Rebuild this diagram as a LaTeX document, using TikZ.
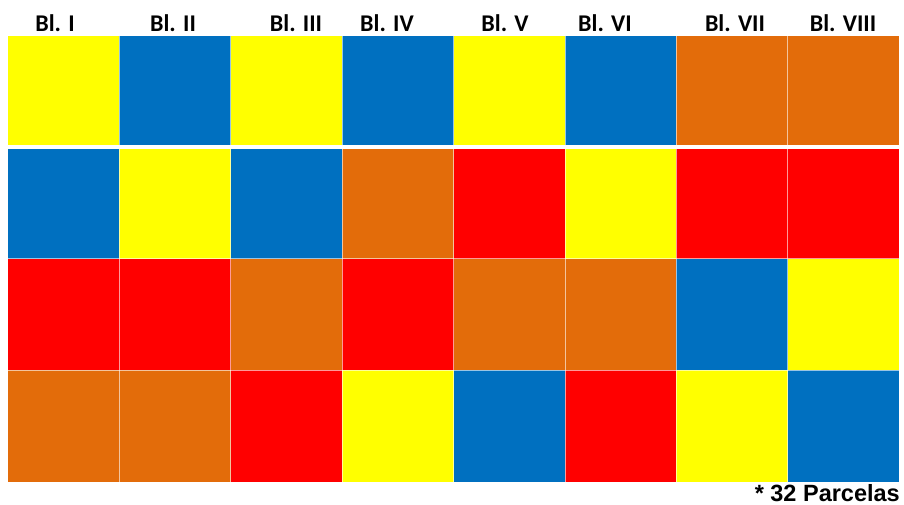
\documentclass[tikz,border=0pt]{standalone}
\usepackage{fontspec}
\newfontfamily\hdrfont{Carlito}
\newfontfamily\notefont{Liberation Sans}
\definecolor{cyel}{HTML}{FFFF00}
\definecolor{cblu}{HTML}{0070C0}
\definecolor{cora}{HTML}{E36C0A}
\definecolor{cred}{HTML}{FF0000}
\begin{document}
\begin{tikzpicture}[x=1pt,y=-1pt,
  cell/.style={draw=white!75!gray!30,line width=0.9pt},
  hdr/.style={font=\hdrfont\bfseries\fontsize{24}{24}\selectfont,anchor=base,inner sep=0pt},
  note/.style={font=\notefont\bfseries\fontsize{23.5}{23.5}\selectfont,anchor=base east,inner sep=0pt}]
\useasboundingbox[fill=white] (0,0) rectangle (904,505);
\def\xs{{8,119.4,230.8,342.2,453.6,565,676.4,787.8,899.2}}
\def\ytop{{36,149,258.5,370}}
\def\ybot{{145,258.5,370,482}}
\foreach \r/\row in {0/{cyel,cblu,cyel,cblu,cyel,cblu,cora,cora},
                     1/{cblu,cyel,cblu,cora,cred,cyel,cred,cred},
                     2/{cred,cred,cora,cred,cora,cora,cblu,cyel},
                     3/{cora,cora,cred,cyel,cblu,cred,cyel,cblu}}{
  \foreach \c [count=\i from 0] in \row {
    \pgfmathsetmacro\xa{\xs[\i]}
    \pgfmathsetmacro\xb{\xs[\i+1]}
    \pgfmathsetmacro\ya{\ytop[\r]}
    \pgfmathsetmacro\yb{\ybot[\r]}
    \fill[\c] (\xa,\ya) rectangle (\xb,\yb);
  }
}
\foreach \r in {0,1,2,3}{
  \foreach \i in {1,...,7}{
    \pgfmathsetmacro\xa{\xs[\i]}
    \pgfmathsetmacro\ya{\ytop[\r]}
    \pgfmathsetmacro\yb{\ybot[\r]}
    \draw[white,opacity=0.6,line width=0.9pt] (\xa,\ya) -- (\xa,\yb);
  }
}
\draw[white,opacity=0.6,line width=0.9pt] (8,258.5) -- (899.2,258.5);
\draw[white,opacity=0.6,line width=0.9pt] (8,370) -- (899.2,370);
\node[hdr] (h1) at (55,32) {Bl. I};
\node[hdr] (h2) at (173,32) {Bl. II};
\node[hdr] (h3) at (296,32) {Bl. III};
\node[hdr] (h4) at (387,32) {Bl. IV};
\node[hdr] (h5) at (505,32) {Bl. V};
\node[hdr] (h6) at (605,32) {Bl. VI};
\node[hdr] (h7) at (735,32) {Bl. VII};
\node[hdr] (h8) at (843,32) {Bl. VIII};
\node[note] (n) at (900,501) {* 32 Parcelas};
\end{tikzpicture}
\end{document}
